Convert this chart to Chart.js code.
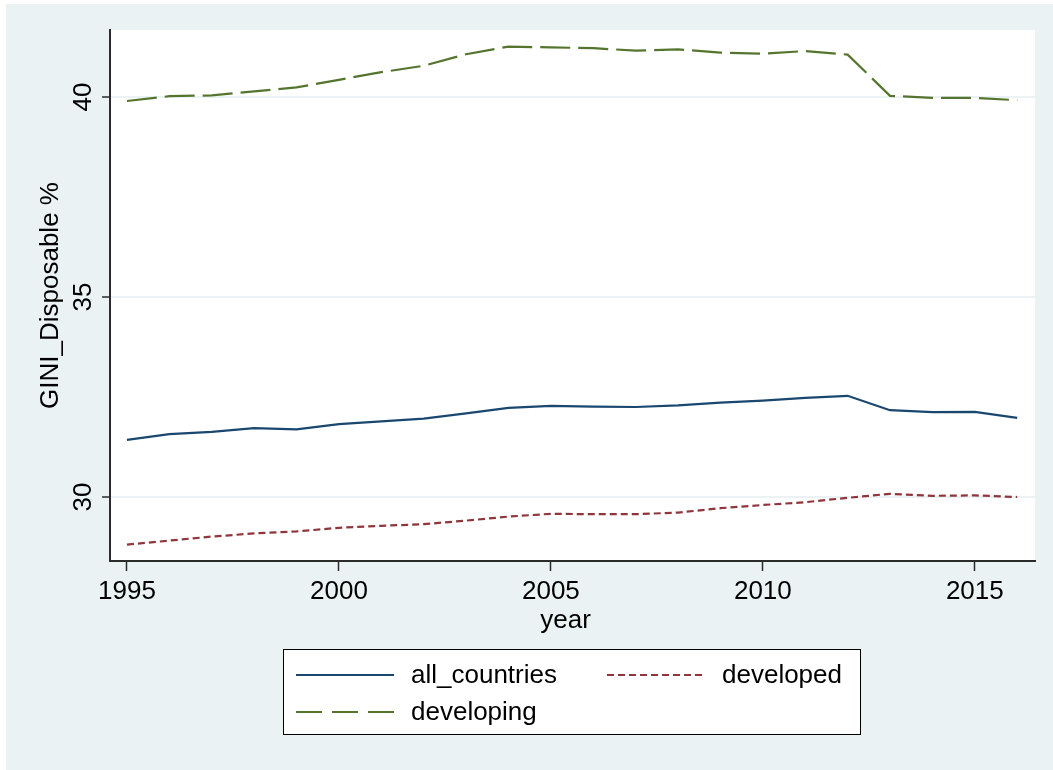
<!DOCTYPE html>
<html>
<head>
<meta charset="utf-8">
<title>GINI Disposable %</title>
<script src="https://cdn.jsdelivr.net/npm/chart.js@4.4.1/dist/chart.umd.min.js"></script>
<style>
  html, body { margin: 0; padding: 0; background: #ffffff; }
  canvas { display: block; }
</style>
</head>
<body>
<canvas id="c" width="1053" height="770"></canvas>
<script>
// Survey years
const years = [1995, 1996, 1997, 1998, 1999, 2000, 2001, 2002, 2003, 2004, 2005,
               2006, 2007, 2008, 2009, 2010, 2011, 2012, 2013, 2014, 2015, 2016];

// Mean disposable-income GINI (%) by country group
const allCountries = [31.43, 31.57, 31.63, 31.72, 31.69, 31.82, 31.89, 31.96, 32.09, 32.23, 32.28,
                      32.26, 32.25, 32.29, 32.36, 32.41, 32.48, 32.53, 32.17, 32.12, 32.13, 31.98];
const developed    = [28.81, 28.91, 29.01, 29.09, 29.14, 29.23, 29.28, 29.32, 29.41, 29.51, 29.58,
                      29.57, 29.57, 29.61, 29.72, 29.80, 29.87, 29.98, 30.08, 30.03, 30.04, 30.00];
const developing   = [39.90, 40.02, 40.04, 40.14, 40.24, 40.43, 40.62, 40.78, 41.07, 41.26, 41.24,
                      41.22, 41.16, 41.19, 41.11, 41.08, 41.15, 41.06, 40.03, 39.98, 39.98, 39.92];

// Axis ticks
const xTicks = [1995, 2000, 2005, 2010, 2015];
const yTicks = [30, 35, 40];

const seriesNames = ['all_countries', 'developed', 'developing'];

const FONT = '"Liberation Sans", Arial, Helvetica, sans-serif';
const BG = '#eaf2f3';
const INK = '#000000';
const AXIS = '#2b2b2b';

const toPoints = vals => years.map((yr, i) => ({ x: yr, y: vals[i] }));

// Page background, plot area, rotated y labels, axis titles and the boxed legend
const frame = {
  id: 'frame',
  beforeDraw(chart) {
    const ctx = chart.ctx;
    const a = chart.chartArea;
    ctx.save();
    ctx.fillStyle = '#ffffff';
    ctx.fillRect(0, 0, chart.width, chart.height);
    ctx.fillStyle = BG;
    ctx.fillRect(6, 4, chart.width - 6, chart.height - 4);
    ctx.fillStyle = '#ffffff';
    ctx.fillRect(a.left, a.top, a.right - a.left, a.bottom - a.top);
    ctx.restore();
  },
  afterDraw(chart) {
    const ctx = chart.ctx;
    const a = chart.chartArea;
    const ys = chart.scales.y;
    const xs = chart.scales.x;
    ctx.save();
    ctx.fillStyle = INK;
    ctx.font = '26px ' + FONT;
    ctx.textAlign = 'center';
    ctx.textBaseline = 'middle';

    // y tick labels, vertical
    ys.ticks.forEach(t => {
      const py = ys.getPixelForValue(t.value);
      ctx.save();
      ctx.translate(84, py);
      ctx.rotate(-Math.PI / 2);
      ctx.fillText(String(t.value), 0, 0);
      ctx.restore();
    });

    // y title
    ctx.save();
    ctx.translate(51, (a.top + a.bottom) / 2);
    ctx.rotate(-Math.PI / 2);
    ctx.fillText('GINI_Disposable %', 0, 0);
    ctx.restore();

    // x title
    ctx.fillText('year', (xs.left + xs.right) / 2 - 7, 621);

    // legend
    const box = { x: 283, y: 649, w: 578, h: 86 };
    ctx.fillStyle = '#ffffff';
    ctx.fillRect(box.x, box.y, box.w, box.h);
    ctx.strokeStyle = '#000000';
    ctx.lineWidth = 1;
    ctx.strokeRect(box.x + 0.5, box.y + 0.5, box.w - 1, box.h - 1);

    const slots = [
      { x: 296, y: 675 },
      { x: 607, y: 675 },
      { x: 296, y: 712 }
    ];
    chart.data.datasets.forEach((ds, i) => {
      const s = slots[i];
      ctx.save();
      ctx.strokeStyle = ds.borderColor;
      ctx.lineWidth = ds.borderWidth;
      ctx.setLineDash(ds.legendDash || ds.borderDash || []);
      ctx.beginPath();
      ctx.moveTo(s.x, s.y);
      ctx.lineTo(s.x + 98, s.y);
      ctx.stroke();
      ctx.restore();
      ctx.fillStyle = INK;
      ctx.textAlign = 'left';
      ctx.textBaseline = 'middle';
      ctx.fillText(ds.label, s.x + 115, s.y + 1);
    });
    ctx.restore();
  }
};

new Chart(document.getElementById('c'), {
  type: 'line',
  data: {
    datasets: [
      {
        label: seriesNames[0],
        data: toPoints(allCountries),
        borderColor: '#1a476f',
        borderWidth: 2.2,
        borderDash: []
      },
      {
        label: seriesNames[1],
        data: toPoints(developed),
        borderColor: '#90353b',
        borderWidth: 2.2,
        borderDash: [7, 4],
        legendDash: [7, 4]
      },
      {
        label: seriesNames[2],
        data: toPoints(developing),
        borderColor: '#55752f',
        borderWidth: 2.2,
        borderDash: [30, 8],
        legendDash: [26, 10]
      }
    ]
  },
  options: {
    responsive: false,
    devicePixelRatio: 1,
    animation: false,
    events: [],
    elements: {
      point: { radius: 0 },
      line: { tension: 0, fill: false, borderCapStyle: 'butt' }
    },
    layout: { padding: { top: 30, right: 18, left: 0, bottom: 135 } },
    plugins: {
      legend: { display: false },
      tooltip: { enabled: false },
      title: { display: false }
    },
    scales: {
      x: {
        type: 'linear',
        min: 1994.6,
        max: 2016.42,
        afterBuildTicks: s => { s.ticks = xTicks.map(v => ({ value: v })); },
        afterFit: s => { s.height = 74; },
        grid: {
          display: true,
          drawOnChartArea: false,
          drawTicks: true,
          tickLength: 10,
          tickColor: AXIS,
          tickWidth: 1.5
        },
        border: { display: true, color: AXIS, width: 2 },
        ticks: {
          autoSkip: false,
          maxRotation: 0,
          padding: 5,
          color: INK,
          font: { family: FONT, size: 26 },
          callback: v => String(v)
        }
      },
      y: {
        type: 'linear',
        min: 28.4,
        max: 41.675,
        afterBuildTicks: s => { s.ticks = yTicks.map(v => ({ value: v })); },
        afterFit: s => { s.width = 110; },
        grid: {
          display: true,
          drawOnChartArea: true,
          color: BG,
          lineWidth: 2,
          drawTicks: true,
          tickLength: 8,
          tickColor: AXIS,
          tickWidth: 1.5
        },
        border: { display: true, color: AXIS, width: 2 },
        ticks: { display: false }
      }
    }
  },
  plugins: [frame]
});
</script>
</body>
</html>
